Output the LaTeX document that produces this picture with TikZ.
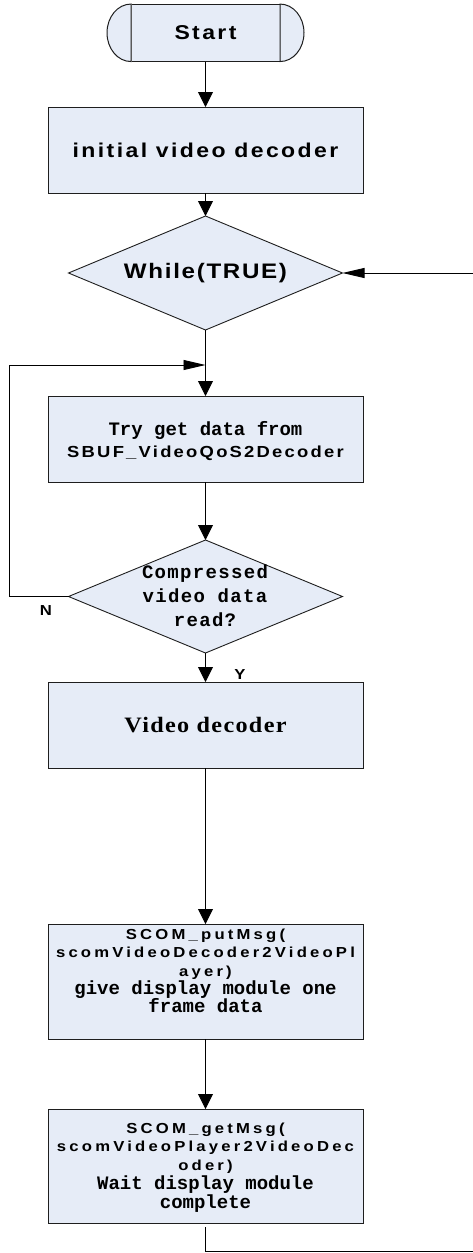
\documentclass[tikz,border=0pt]{standalone}
\usepackage{fontspec}
\setmainfont{Liberation Sans}
% stretched, tracked faces for the flowchart labels
\newfontfamily\sansA[FakeStretch=1.15,LetterSpace=12]{Liberation Sans}
\newfontfamily\sansB[FakeStretch=1.15,LetterSpace=8]{Liberation Sans}
\newfontfamily\sansC[FakeStretch=1.15,LetterSpace=14]{Liberation Sans}
\newfontfamily\sansD[FakeStretch=1.15,LetterSpace=22]{Liberation Sans}
\newfontfamily\monoA{Liberation Mono}
\newfontfamily\monoB[LetterSpace=7]{Liberation Mono}
\newfontfamily\serifA[FakeStretch=1.1,LetterSpace=6]{Liberation Serif}
\usetikzlibrary{shapes.geometric,arrows.meta}
\definecolor{boxfill}{RGB}{230,236,247}
\definecolor{edge}{RGB}{30,30,30}
\definecolor{inner}{RGB}{90,90,90}
\tikzset{
  proc/.style={rectangle, draw=edge, fill=boxfill, line width=1pt,
    minimum width=315pt, inner sep=0pt, outer sep=0pt, align=center},
  cond/.style={diamond, draw=edge, fill=boxfill, line width=0.9pt,
    minimum width=274pt, inner sep=0pt, outer sep=0pt, aspect=2.4},
  capfill/.style={fill=boxfill, draw=edge, line width=1pt},
  link/.style={draw=black, line width=0.9pt},
  arrv/.style={-{Triangle[length=15pt,width=15pt]}},
  arrh/.style={-{Triangle[length=22pt,width=10pt]}},
  txt/.style={inner sep=0pt, align=center},
}
\begin{document}
\begin{tikzpicture}[x=1pt,y=-1pt]
\useasboundingbox (0,0) rectangle (473,1253);

% start terminator: centre block with two elliptical end caps
\node[proc, minimum width=149pt, minimum height=57.5pt,
      font=\sansA\bfseries\fontsize{20}{24}\selectfont] (start) at (205.5,32.8) {Start};
\filldraw[capfill] (start.north west)
  arc[start angle=90, end angle=270, x radius=24pt, y radius=28.75pt] -- cycle;
\filldraw[capfill] (start.south east)
  arc[start angle=-90, end angle=90, x radius=24pt, y radius=28.75pt] -- cycle;
\draw[inner, line width=1pt] (start.north west) -- (start.south west);

% process boxes
\node[proc, minimum height=86pt,
      font=\sansA\bfseries\fontsize{20}{24}\selectfont] (init) at (205.5,150) {initial video decoder};
\node[proc, minimum height=86pt] (try) at (205.5,439) {};
\node[proc, minimum height=86pt,
      font=\serifA\bfseries\fontsize{22}{26}\selectfont] (vdec) at (205.5,725) {Video decoder};
\node[proc, minimum height=115pt] (put) at (205.5,981.5) {};
\node[proc, minimum height=114pt] (get) at (205.5,1166) {};

% decisions
\node[cond, minimum height=114pt] (while) at (205.5,273) {};
\node[cond, minimum height=113pt] (dec) at (205.5,596.5) {};

% texts
\node[txt, font=\sansB\bfseries\fontsize{21}{25}\selectfont] (whileT) at (205.5,273) {While(TRUE)};
\node[txt, font=\monoA\bfseries\fontsize{19}{22}\selectfont] (tryT) at (205.5,441) {%
  Try get data from\\
  {\sansC\bfseries\fontsize{16}{22}\selectfont SBUF\_VideoQoS2Decoder}};
\node[txt, font=\monoB\bfseries\fontsize{19}{24}\selectfont] (decT) at (205,596) {%
  Compressed\\video data\\read?};
\node[txt, font=\sansD\bfseries\fontsize{14.5}{18.3}\selectfont] (putT) at (205.5,971) {%
  SCOM\_putMsg(\\
  scomVideoDecoder2VideoPl\\
  ayer)\\
  {\monoA\bfseries\fontsize{19}{18.3}\selectfont give display module one}\\
  {\monoA\bfseries\fontsize{19}{18.3}\selectfont frame data}};
\node[txt, font=\sansD\bfseries\fontsize{14.5}{18.8}\selectfont] (getT) at (205.5,1167.5) {%
  SCOM\_getMsg(\\
  scomVideoPlayer2VideoDec\\
  oder)\\
  {\monoA\bfseries\fontsize{19}{18.8}\selectfont Wait display module}\\
  {\monoA\bfseries\fontsize{19}{18.8}\selectfont complete}};

% branch labels
\node[txt, font=\sansA\bfseries\fontsize{14.5}{17}\selectfont] (nlab) at (46,611) {N};
\node[txt, font=\sansA\bfseries\fontsize{14.5}{17}\selectfont] (ylab) at (240,675) {Y};

% helper points
\coordinate (entry) at (473,273);
\coordinate (join) at (205.5,365);
\coordinate (loopTop) at (9,365);
\coordinate (tailTurn) at (205.5,1251.5);
\coordinate (tailEnd) at (473,1251.5);

% connectors
\draw[link,arrv] (start) -- (init);
\draw[link,arrv] (init) -- (while);
\draw[link,arrh] (entry) -- (while.east);
\draw[link,arrv] (while.south) -- (try.north);
\draw[link,arrh] (dec.west) -| (loopTop) -- (join);
\draw[link,arrv] (try) -- (dec);
\draw[link,arrv] (dec) -- (vdec);
\draw[link,arrv] (vdec) -- (put);
\draw[link,arrv] (put) -- (get);
\draw[link] ([yshift=-4pt]get.south) -- (tailTurn) -- (tailEnd);
\end{tikzpicture}
\end{document}
